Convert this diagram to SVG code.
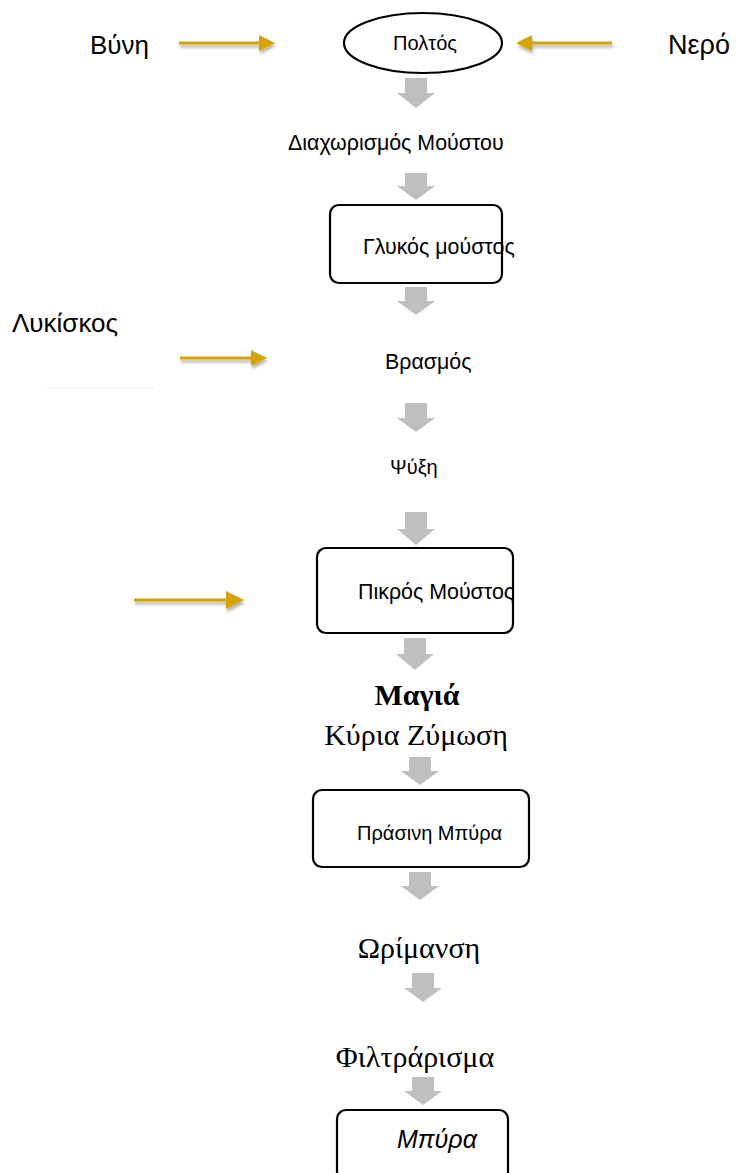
<svg xmlns="http://www.w3.org/2000/svg" width="737" height="1173" viewBox="0 0 737 1173">
<defs>
<style>
.s{font-family:"Liberation Sans",Arial,sans-serif;fill:#000}
.sm{font-size:20px}
.md{font-size:21.4px}
.lg{font-size:26px}
.r{font-family:"Liberation Serif","Times New Roman",serif;fill:#000;font-size:30px}
.box{fill:#fff;stroke:#000;stroke-width:2.2}
.ga{fill:#bfbfbf}
.gold{stroke:#d6a400;stroke-width:3;fill:none}
.goldh{fill:#d6a400}
</style>
<filter id="sh" x="-20%" y="-100%" width="140%" height="400%">
<feDropShadow dx="1" dy="3" stdDeviation="1.5" flood-color="#000" flood-opacity="0.3"/>
</filter>
<clipPath id="cp2"><rect x="317" y="548" width="196" height="85"/></clipPath>
</defs>
<rect width="737" height="1173" fill="#fff"/>

<g id="connectors">
<g id="gold-arrows" filter="url(#sh)">
<g id="a-vyni"><line class="gold" x1="179" y1="43" x2="260" y2="43"/><polygon class="goldh" points="259,35 275,43 259,51"/></g>
<g id="a-nero"><line class="gold" x1="531" y1="43" x2="612" y2="43"/><polygon class="goldh" points="532,35 516,43 532,51"/></g>
<g id="a-lyk"><line class="gold" x1="180" y1="358" x2="252" y2="358"/><polygon class="goldh" points="251,350 267,358 251,366"/></g>
<g id="a-empty"><line class="gold" x1="134" y1="600" x2="227" y2="600"/><polygon class="goldh" points="226,591 244,600 226,609"/></g>
</g>
<g id="gray-arrows">
<polygon class="ga" points="405,78 427,78 427,93 435,93 416,108 397,93 405,93"/>
<polygon class="ga" points="405,173 427,173 427,186 435,186 416,200 397,186 405,186"/>
<polygon class="ga" points="405,287 427,287 427,301 435,301 416,315 397,301 405,301"/>
<polygon class="ga" points="405,403 427,403 427,418 435,418 416,432 397,418 405,418"/>
<polygon class="ga" points="405,512 427,512 427,529 435,529 416,545 397,529 405,529"/>
<polygon class="ga" points="404,638 426,638 426,654 434,654 415,670 396,654 404,654"/>
<polygon class="ga" points="409,757 431,757 431,771 439,771 420,785 401,771 409,771"/>
<polygon class="ga" points="409,872 431,872 431,886 439,886 420,900 401,886 409,886"/>
<polygon class="ga" points="412,973 434,973 434,988 442,988 423,1002 404,988 412,988"/>
<polygon class="ga" points="412,1077 434,1077 434,1091 442,1091 423,1105 404,1091 412,1091"/>
</g>
<line x1="47" y1="388" x2="155" y2="388" stroke="#f0f0f0" stroke-width="1"/>
</g>

<g id="n-vyni"><text class="s lg" x="90" y="54">Βύνη</text></g>
<g id="n-nero"><text class="s" x="668" y="54" font-size="27">Νερό</text></g>
<g id="n-poltos"><ellipse cx="423" cy="43" rx="79" ry="30" fill="#fff" stroke="#000" stroke-width="2.2"/><text class="s sm" x="425" y="50" text-anchor="middle">Πολτός</text></g>
<g id="n-diax"><text class="s md" x="288" y="150">Διαχωρισμός Μούστου</text></g>
<g id="n-glykos"><rect class="box" x="330" y="205" width="172" height="78" rx="9"/><text class="s md" x="363" y="254">Γλυκός μούστος</text></g>
<g id="n-lyk"><text class="s lg" x="12" y="332">Λυκίσκος</text></g>
<g id="n-vrasmos"><text class="s md" x="385" y="369">Βρασμός</text></g>
<g id="n-psyxi"><text class="s sm" x="390" y="474">Ψύξη</text></g>
<g id="n-pikros"><rect class="box" x="317" y="548" width="196" height="85" rx="9"/><text class="s md" x="358" y="599" clip-path="url(#cp2)">Πικρός Μούστος</text></g>
<g id="n-zymosi"><text class="r" x="417" y="705" text-anchor="middle" font-weight="bold">Μαγιά</text><text class="r" x="416" y="745" text-anchor="middle" font-size="31.8">Κύρια Ζύμωση</text></g>
<g id="n-prasini"><rect class="box" x="313" y="790" width="216" height="77" rx="9"/><text class="s sm" x="357" y="840">Πράσινη Μπύρα</text></g>
<g id="n-orimansi"><text class="r" x="419" y="958" text-anchor="middle" font-size="28">Ωρίμανση</text></g>
<g id="n-filtr"><text class="r" x="415" y="1067" text-anchor="middle" font-size="28">Φιλτράρισμα</text></g>
<g id="n-mpyra"><rect class="box" x="337" y="1110" width="171" height="80" rx="9"/><text class="s" x="437" y="1148" font-size="25" font-style="italic" text-anchor="middle">Μπύρα</text></g>
</svg>
